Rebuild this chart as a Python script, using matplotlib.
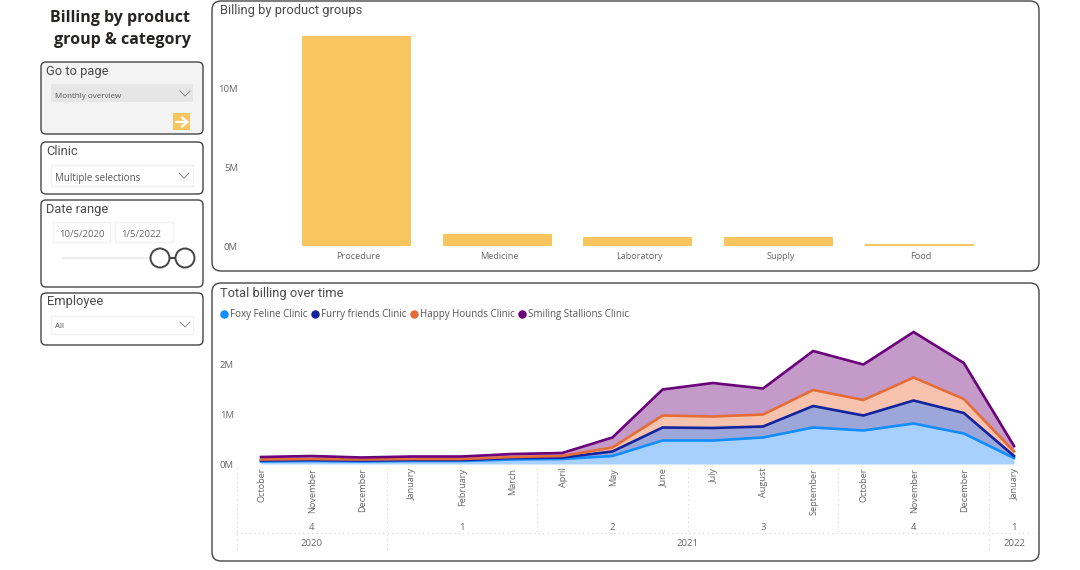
import numpy as np
import matplotlib
matplotlib.use('Agg')
import matplotlib.pyplot as plt
from matplotlib.patches import FancyBboxPatch, Rectangle, Circle
from matplotlib.transforms import ScaledTranslation

W, H = 1080, 570

groups = ['Procedure', 'Medicine', 'Laboratory', 'Supply', 'Food']
group_billing = [13.4, 0.76, 0.60, 0.55, 0.13]

months = ['October', 'November', 'December', 'January', 'February', 'March', 'April', 'May',
          'June', 'July', 'August', 'September', 'October', 'November', 'December', 'January']
foxy = [.05, .06, .05, .06, .06, .09, .10, .16, .47, .47, .53, .73, .67, .81, .61, .12]
furry = [.02, .02, .02, .02, .02, .03, .03, .09, .26, .25, .22, .43, .30, .46, .41, .04]
happy = [.02, .02, .02, .02, .02, .02, .03, .08, .24, .23, .24, .32, .31, .46, .28, .09]
smiling = [.05, .06, .04, .05, .05, .06, .06, .20, .52, .67, .52, .78, .71, .91, .72, .11]

clinics = ['Foxy Feline Clinic', 'Furry friends Clinic', 'Happy Hounds Clinic', 'Smiling Stallions Clinic']
line_colors = ['#118DFF', '#12239E', '#E66C37', '#6B007B']
fill_colors = ['#A8D0FF', '#9DA6D9', '#F7C3AE', '#C39AC8']

quarters = ['4', '1', '2', '3', '4', '1']
quarter_pos = [1, 4, 7, 10, 13, 15]
years = ['2020', '2021', '2022']
year_pos = [1, 8.5, 15]

plt.rcParams['font.family'] = ['Open Sans', 'DejaVu Sans']
TITLE_FONT = ['Roboto', 'DejaVu Sans']
GREY = '#666666'


def axes_px(left, top, right, bottom):
    return fig.add_axes([left / W, 1 - bottom / H, (right - left) / W, (bottom - top) / H])


def nudge_labels(labels, px):
    # move tick labels sideways by px pixels
    for t in labels:
        t.set_transform(t.get_transform() + ScaledTranslation(px / 100, 0, fig.dpi_scale_trans))


fig = plt.figure(figsize=(W / 100, H / 100), dpi=100, facecolor='white')

# page furniture, in pixel coordinates
bg = fig.add_axes([0, 0, 1, 1])
bg.set_xlim(0, W)
bg.set_ylim(H, 0)
bg.axis('off')


def panel(x0, y0, x1, y1, r=5, fc='white', ec='#454545', lw=1.0):
    bg.add_patch(FancyBboxPatch((x0 + r, y0 + r), x1 - x0 - 2 * r, y1 - y0 - 2 * r,
                                boxstyle='round,pad=%d,rounding_size=%d' % (r, r),
                                fc=fc, ec=ec, lw=lw))


def chevron(x, y, c='#777777'):
    bg.plot([x - 5, x, x + 5], [y - 3, y + 2, y - 3], color=c, lw=0.6)


panel(212, 1, 1039, 271, r=9)
panel(212, 283, 1039, 561, r=9)
panel(41, 62, 203, 134, fc='#F3F3F3')
panel(41, 142, 203, 194)
panel(41, 200, 203, 287)
panel(41, 293, 203, 345)

bg.text(120, 17.5, 'Billing by product', ha='center', va='center', fontsize=11.5, fontweight='bold', color='#252423')
bg.text(122, 40, 'group & category', ha='center', va='center', fontsize=11.5, fontweight='bold', color='#252423')

for label, x, y in [('Go to page', 46.5, 71), ('Clinic', 46.5, 151.5), ('Date range', 46.5, 210), ('Employee', 46.5, 302),
                    ('Billing by product groups', 220, 10.5), ('Total billing over time', 220, 294)]:
    bg.text(x, y, label, ha='left', va='center', fontsize=9.3, family=TITLE_FONT, color='#4A4A4A')

# go to page slicer
bg.add_patch(Rectangle((51, 84), 142, 18, fc='#E6E6E6', ec='none'))
bg.text(55, 96, 'Monthly overview', ha='left', va='center', fontsize=5.8, color='#555555')
chevron(185, 94)
bg.add_patch(Rectangle((173, 113), 17, 17, fc='#F9C55F', ec='none'))
bg.plot([176, 187], [122, 122], color='white', lw=1.6)
bg.plot([182, 187.5, 182], [117.5, 122, 126.5], color='white', lw=1.6)

# clinic slicer
bg.add_patch(Rectangle((51, 165), 142, 21, fc='white', ec='#F2F2F2', lw=1))
bg.text(55, 178, 'Multiple selections', ha='left', va='center', fontsize=7, color='#555555')
chevron(184, 176)

# date range slicer
bg.add_patch(Rectangle((53, 222), 57, 20, fc='white', ec='#F2F2F2', lw=1))
bg.add_patch(Rectangle((115, 222), 58, 20, fc='white', ec='#F2F2F2', lw=1))
bg.text(59, 234.5, '10/5/2020', ha='left', va='center', fontsize=6.8, color='#666666')
bg.text(121, 234.5, '1/5/2022', ha='left', va='center', fontsize=6.8, color='#666666')
bg.plot([63, 155], [258, 258], color='#EEEEEE', lw=1.5)
bg.plot([165, 180], [258, 258], color='#444444', lw=1.5)
bg.add_patch(Circle((160, 258), 9.5, fc='white', ec='#444444', lw=1.4, zorder=3))
bg.add_patch(Circle((185, 258), 9.5, fc='white', ec='#444444', lw=1.4, zorder=3))

# employee slicer
bg.add_patch(Rectangle((51, 316), 142, 18, fc='white', ec='#F2F2F2', lw=1))
bg.text(55, 327, 'All', ha='left', va='center', fontsize=5.8, color='#555555')
chevron(185, 325)

# multi-level axis separators under the area chart
for x, y_end in [(237, 550), (387, 550), (537, 533), (687.5, 533), (838, 533), (989, 550)]:
    bg.plot([x, x], [468, y_end], color='#D4D4D4', lw=0.8, ls=(0, (1, 3)))
bg.plot([236, 1032], [533, 533], color='#D4D4D4', lw=0.8, ls=(0, (1, 3)))

# bar chart
ax1 = axes_px(286, 20, 989.5, 246)
ax1.patch.set_alpha(0)
ax1.bar(range(len(groups)), group_billing, width=0.775, color='#F9C55F')
ax1.set_xlim(-0.5, 4.5)
ax1.set_ylim(0, 226 / 15.7)
ax1.set_xticks(range(len(groups)))
ax1.set_xticklabels(groups)
ax1.set_yticks([0, 5, 10])
ax1.set_yticklabels(['0M', '5M', '10M'])
ax1.tick_params(axis='x', length=0, pad=4, labelsize=6.6, labelcolor=GREY)
ax1.tick_params(axis='y', length=0, pad=34.6, labelsize=6.8, labelcolor=GREY)
nudge_labels(ax1.get_xticklabels(), 2)
for s in ax1.spines.values():
    s.set_visible(False)

# stacked area chart
ax2 = axes_px(261, 325, 1014, 464)
ax2.patch.set_alpha(0)
x = np.arange(len(months))
tops = np.cumsum([foxy, furry, happy, smiling], axis=0)
lower = np.zeros(len(months))
for top, fc in zip(tops, fill_colors):
    ax2.fill_between(x, lower, top, color=fc, lw=0, clip_on=False)
    lower = top
handles = []
for top, c in zip(tops, line_colors):
    ax2.plot(x, top, color=c, lw=1.9, solid_joinstyle='miter', clip_on=False)
for c, name in zip(line_colors, clinics):
    handles.append(ax2.scatter([], [], s=26, color=c, label=name))
ax2.set_xlim(0, 15)
ax2.set_ylim(0, 139 / 50)
ax2.set_xticks(x)
ax2.set_xticklabels(months, rotation=90, va='top', ha='center')
ax2.set_yticks([0, 1, 2])
ax2.set_yticklabels(['0M', '1M', '2M'])
ax2.tick_params(axis='x', length=0, pad=2.8, labelsize=6.6, labelcolor=GREY)
ax2.tick_params(axis='y', length=0, pad=19.5, labelsize=6.8, labelcolor=GREY)
nudge_labels(ax2.get_xticklabels(), 1)
for s in ax2.spines.values():
    s.set_visible(False)

trans = ax2.get_xaxis_transform()
for q, p in zip(quarters, quarter_pos):
    ax2.annotate(q, xy=(p, 0), xycoords=trans, xytext=(0, -(527 - 464) * 0.72), textcoords='offset points',
                 ha='center', va='center', fontsize=6.8, color=GREY)
for yr, p in zip(years, year_pos):
    ax2.annotate(yr, xy=(p, 0), xycoords=trans, xytext=(0, -(543 - 464) * 0.72), textcoords='offset points',
                 ha='center', va='center', fontsize=6.8, color=GREY)

fig.legend(handles=handles, loc='center left', bbox_to_anchor=(219 / W, 1 - 314 / H), ncol=4, frameon=False,
           fontsize=7.0, labelcolor='#555555', handlelength=1, handletextpad=0.1, columnspacing=0.3,
           borderpad=0, borderaxespad=0)

fig.savefig('out.png', dpi=100, facecolor='white')
